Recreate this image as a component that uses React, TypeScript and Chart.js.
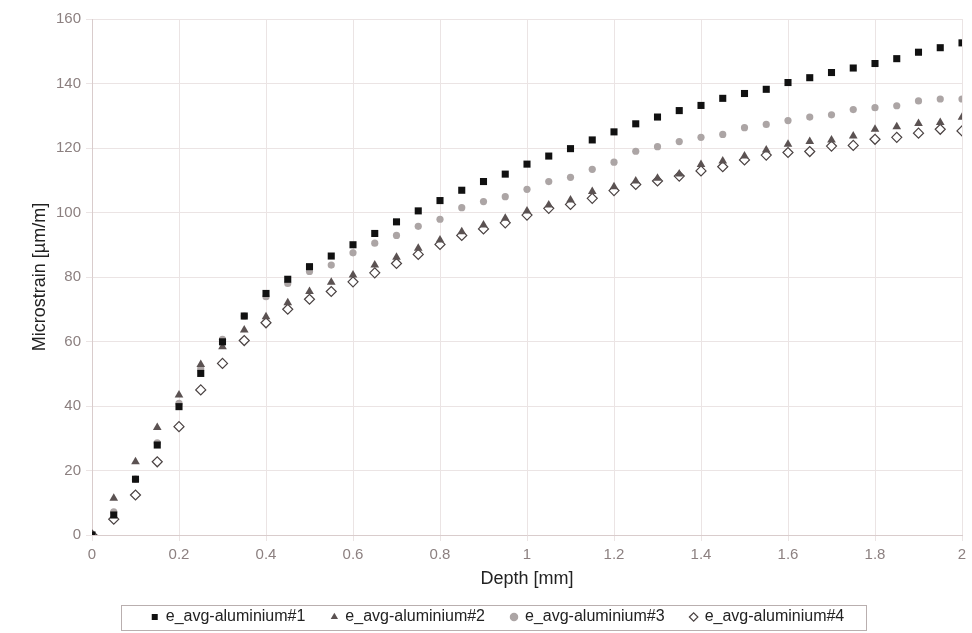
import React, { useEffect, useRef } from "react";
import { Chart, registerables } from "chart.js";

Chart.register(...registerables);

const depths = [
  0, 0.05, 0.1, 0.15, 0.2, 0.25, 0.3, 0.35, 0.4, 0.45, 0.5, 0.55, 0.6, 0.65, 0.7, 0.75, 0.8, 0.85, 0.9, 0.95,
  1.0, 1.05, 1.1, 1.15, 1.2, 1.25, 1.3, 1.35, 1.4, 1.45, 1.5, 1.55, 1.6, 1.65, 1.7, 1.75, 1.8, 1.85, 1.9, 1.95, 2.0,
];

const alu1 = [
  0, 6.2, 17.3, 27.9, 39.8, 50.1, 59.9, 67.9, 74.9, 79.3, 83.2, 86.5, 90.0, 93.5, 97.1, 100.5, 103.7, 106.9, 109.6, 111.9,
  115.0, 117.5, 119.8, 122.5, 125.0, 127.5, 129.6, 131.6, 133.2, 135.4, 136.9, 138.2, 140.3, 141.8, 143.4, 144.8, 146.2,
  147.7, 149.7, 151.1, 152.6,
];

const alu2 = [
  0, 11.4, 22.7, 33.3, 43.4, 52.9, 58.4, 63.6, 67.7, 72.0, 75.5, 78.4, 80.6, 83.7, 86.1, 88.9, 91.5, 94.0, 96.1, 98.2,
  100.5, 102.3, 103.9, 106.5, 108.0, 109.8, 110.6, 111.9, 114.9, 116.0, 117.5, 119.4, 121.2, 122.0, 122.5, 123.7, 125.8,
  126.6, 127.6, 127.9, 129.5,
];

const alu3 = [
  0, 7.2, 17.3, 28.6, 40.8, 51.5, 60.7, 67.9, 73.9, 78.0, 81.7, 83.7, 87.5, 90.5, 92.9, 95.7, 97.9, 101.5, 103.4, 104.9,
  107.2, 109.6, 110.9, 113.4, 115.6, 119.0, 120.4, 122.0, 123.3, 124.2, 126.3, 127.3, 128.5, 129.6, 130.3, 131.9, 132.5,
  133.1, 134.6, 135.2, 135.2,
];

const alu4 = [
  0, 4.9, 12.4, 22.7, 33.6, 45.0, 53.2, 60.3, 65.8, 70.0, 73.1, 75.5, 78.5, 81.3, 84.2, 87.0, 90.1, 92.9, 94.9, 96.8,
  99.2, 101.3, 102.5, 104.4, 106.8, 108.7, 109.8, 111.3, 112.9, 114.2, 116.3, 117.8, 118.6, 118.9, 120.6, 120.8, 122.7,
  123.3, 124.6, 125.8, 125.3,
];

const seriesNames = ["e_avg-aluminium#1", "e_avg-aluminium#2", "e_avg-aluminium#3", "e_avg-aluminium#4"];
const xTitle = "Depth [mm]";
const yTitle = "Microstrain [µm/m]";

const toPoints = (ys: number[]) => depths.map((x, i) => ({ x, y: ys[i] }));

const legendBox = {
  id: "legendBox",
  afterDraw(chart: any) {
    const hb = chart.legend && chart.legend.legendHitBoxes;
    if (!hb || !hb.length) return;
    const ctx = chart.ctx;
    const first = hb[0];
    const last = hb[hb.length - 1];
    const left = Math.round(first.left - 31);
    const right = Math.round(last.left + last.width + 22);
    const cy = first.top + first.height / 2;
    const top = Math.round(cy - 12.5);
    ctx.save();
    ctx.strokeStyle = "#b9afaf";
    ctx.lineWidth = 1;
    ctx.strokeRect(left + 0.5, top + 0.5, right - left, 25);
    ctx.restore();
  },
};

export default function App() {
  const ref = useRef<HTMLCanvasElement | null>(null);

  useEffect(() => {
    document.body.style.margin = "0";
    const canvas = ref.current;
    if (!canvas) return;
    const gridColor = "#ebe4e4";
    const tickColor = "#8c8080";
    const font = "'Liberation Sans', Arial, sans-serif";
    const chart = new Chart(canvas, {
      type: "scatter",
      data: {
        datasets: [
          {
            label: seriesNames[0],
            data: toPoints(alu1),
            pointStyle: "rect",
            pointRadius: 5,
            backgroundColor: "#111111",
            borderColor: "#111111",
            borderWidth: 0,
          },
          {
            label: seriesNames[1],
            data: toPoints(alu2),
            pointStyle: "triangle",
            pointRadius: 5,
            backgroundColor: "#5b5252",
            borderColor: "#5b5252",
            borderWidth: 0,
          },
          {
            label: seriesNames[2],
            data: toPoints(alu3),
            pointStyle: "circle",
            pointRadius: 3.6,
            backgroundColor: "#aca5a5",
            borderColor: "#aca5a5",
            borderWidth: 0,
          },
          {
            label: seriesNames[3],
            data: toPoints(alu4),
            pointStyle: "rectRot",
            pointRadius: 5,
            backgroundColor: "#ffffff",
            borderColor: "#4a4242",
            borderWidth: 1.2,
          },
        ],
      },
      options: {
        responsive: false,
        animation: false,
        devicePixelRatio: 1,
        layout: { padding: { left: 34, right: 10, top: 19, bottom: -2 } },
        plugins: {
          legend: {
            position: "bottom",
            labels: {
              usePointStyle: true,
              boxWidth: 6,
              boxHeight: 6,
              padding: 26,
              color: "#222222",
              font: { family: font, size: 16 },
            },
          },
          tooltip: { enabled: false },
        },
        scales: {
          x: {
            type: "linear",
            min: 0,
            max: 2,
            ticks: {
              stepSize: 0.2,
              color: tickColor,
              padding: 5,
              maxRotation: 0,
              font: { family: font, size: 15 },
              callback: (v: any) => String(Math.round(Number(v) * 10) / 10),
            },
            grid: { color: gridColor, tickLength: 6, tickColor: gridColor },
            border: { color: "#d9cccc" },
            title: {
              display: true,
              text: xTitle,
              color: "#222222",
              padding: { top: 0, bottom: -7 },
              font: { family: font, size: 18 },
            },
            afterFit: (scale: any) => {
              scale.height = 48;
              scale.paddingRight = 0;
            },
          },
          y: {
            type: "linear",
            min: 0,
            max: 160,
            ticks: {
              stepSize: 20,
              color: tickColor,
              padding: 5,
              font: { family: font, size: 15 },
            },
            grid: { color: gridColor, tickLength: 6, tickColor: gridColor },
            border: { color: "#d9cccc" },
            title: {
              display: true,
              text: yTitle,
              color: "#222222",
              padding: { top: -5, bottom: 0 },
              font: { family: font, size: 18 },
            },
            afterFit: (scale: any) => {
              scale.width = 58;
            },
          },
        },
      },
      plugins: [legendBox],
    });
    return () => chart.destroy();
  }, []);

  return (
    <div style={{ width: 972, height: 633, background: "#ffffff" }}>
      <canvas ref={ref} width={972} height={633} style={{ display: "block" }} />
    </div>
  );
}
